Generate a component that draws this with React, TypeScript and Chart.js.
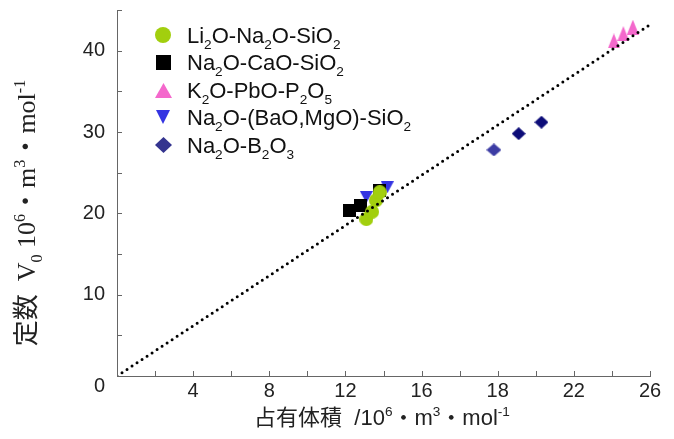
import React, { useEffect, useRef } from 'react';
import { Chart, registerables } from 'chart.js';

Chart.register(...registerables);

// ---- data ----
const seriesNames = [
  'Li_{2}O-Na_{2}O-SiO_{2}',
  'Na_{2}O-CaO-SiO_{2}',
  'K_{2}O-PbO-P_{2}O_{5}',
  'Na_{2}O-(BaO,MgO)-SiO_{2}',
  'Na_{2}O-B_{2}O_{3}',
];
const liX = [13.1, 13.4, 13.6, 13.8];
const liY = [19.3, 20.2, 21.6, 22.6];
const caX = [12.2, 12.8, 13.8];
const caY = [20.3, 21.0, 22.8];
const kX = [26.1, 26.6, 27.1];
const kY = [41.2, 42.1, 42.9];
const baX = [13.1, 14.2];
const baY = [22.0, 23.2];
const bX = [19.8, 21.1, 22.3];
const bY = [27.8, 29.8, 31.2];
const lineX = [0, 28];
const lineY = [0, 43.2];
const xTickLabels = ['4', '8', '12', '16', '18', '22', '26'];
const yTickLabels = ['0', '10', '20', '30', '40'];
const xTitle = '占有体積  /10^{6}・m^{3}・mol^{-1}';
const yTitle = '定数  V_{0} 10^{6}・m^{3}・mol^{-1}';

const SANS = "'Liberation Sans', Arial, 'Noto Sans CJK JP', sans-serif";
const SERIF = "'Liberation Serif', 'Times New Roman', 'Noto Sans CJK JP', serif";

type Seg = { t: string; k: number };
function parseRich(s: string): Seg[] {
  const out: Seg[] = [];
  const re = /([_^])\{([^}]*)\}/g;
  let last = 0;
  let m: RegExpExecArray | null;
  while ((m = re.exec(s))) {
    if (m.index > last) out.push({ t: s.slice(last, m.index), k: 0 });
    out.push({ t: m[2], k: m[1] === '^' ? 1 : -1 });
    last = re.lastIndex;
  }
  if (last < s.length) out.push({ t: s.slice(last), k: 0 });
  return out;
}
function drawRich(ctx: CanvasRenderingContext2D, s: string, x: number, y: number, size: number, family: string, align: 'left' | 'center', color: string) {
  const segs = parseRich(s);
  const small = size * 0.62;
  let total = 0;
  const widths: number[] = [];
  for (const g of segs) {
    ctx.font = `${g.k === 0 ? size : small}px ${family}`;
    const w = ctx.measureText(g.t).width;
    widths.push(w);
    total += w;
  }
  let cx = align === 'center' ? x - total / 2 : x;
  ctx.fillStyle = color;
  ctx.textBaseline = 'alphabetic';
  ctx.textAlign = 'left';
  segs.forEach((g, i) => {
    ctx.font = `${g.k === 0 ? size : small}px ${family}`;
    const dy = g.k === 1 ? -size * 0.4 : g.k === -1 ? size * 0.26 : 0;
    ctx.fillText(g.t, cx, y + dy);
    cx += widths[i];
  });
}

function makeMarker(shape: string, w: number, h: number, fill: string): HTMLCanvasElement {
  const c = document.createElement('canvas');
  c.width = w;
  c.height = h;
  const g = c.getContext('2d')!;
  g.fillStyle = fill;
  g.beginPath();
  if (shape === 'circle') {
    g.ellipse(w / 2, h / 2, w / 2, h / 2, 0, 0, Math.PI * 2);
  } else if (shape === 'square') {
    g.rect(0, 0, w, h);
  } else if (shape === 'up') {
    g.moveTo(w / 2, 0); g.lineTo(w, h); g.lineTo(0, h);
  } else if (shape === 'down') {
    g.moveTo(0, 0); g.lineTo(w, 0); g.lineTo(w / 2, h);
  } else {
    g.moveTo(w / 2, 0); g.lineTo(w, h / 2); g.lineTo(w / 2, h); g.lineTo(0, h / 2);
  }
  g.closePath();
  g.fill();
  return c;
}

const zip = (xs: number[], ys: number[]) => xs.map((x, i) => ({ x, y: ys[i] }));

export default function App() {
  const ref = useRef<HTMLCanvasElement>(null);
  useEffect(() => {
    const cv = ref.current!;
    const green = '#a2cf0e';
    const pink = '#f468cc';
    const blue = '#3434e2';
    const navy = '#34348f';
    const dataMarkers = [
      makeMarker('circle', 14, 14, green),
      makeMarker('square', 13, 13, '#000'),
      makeMarker('up', 12, 15, pink),
      makeMarker('down', 13, 12, blue),
      [makeMarker('diamond', 15, 13, '#3c3ca4'), makeMarker('diamond', 14, 13, '#0c0c78'), makeMarker('diamond', 14, 13, '#0c0c78')],
    ];
    const legendMarkers = [
      makeMarker('circle', 16, 16, green),
      makeMarker('square', 15, 15, '#000'),
      makeMarker('up', 17, 15, pink),
      makeMarker('down', 14, 14, blue),
      makeMarker('diamond', 17, 16, navy),
    ];

    const overlay = {
      id: 'overlay',
      afterDraw(chart: any) {
        const ctx: CanvasRenderingContext2D = chart.ctx;
        const xs = chart.scales.x;
        const ys = chart.scales.y;
        const area = chart.chartArea;
        ctx.save();
        // inward tick marks
        ctx.strokeStyle = '#666';
        ctx.lineWidth = 1;
        ctx.beginPath();
        xs.ticks.forEach((t: any) => {
          const px = Math.round(xs.getPixelForValue(t.value)) + 0.5;
          ctx.moveTo(px, area.bottom);
          ctx.lineTo(px, area.bottom - 5);
        });
        ys.ticks.forEach((t: any) => {
          const py = Math.round(ys.getPixelForValue(t.value)) + 0.5;
          ctx.moveTo(area.left, py);
          ctx.lineTo(area.left + 5, py);
        });
        ctx.stroke();
        // origin label (sits below the corner, as in the source)
        ctx.font = `20px ${SANS}`;
        ctx.fillStyle = '#222';
        ctx.textAlign = 'right';
        ctx.textBaseline = 'middle';
        ctx.fillText(yTickLabels[0], area.left - 12, ys.getPixelForValue(0) + 10);
        // legend
        const rows = [35, 62, 90, 117, 145];
        seriesNames.forEach((name, i) => {
          const m = legendMarkers[i];
          ctx.drawImage(m, Math.round(163 - m.width / 2), Math.round(rows[i] - m.height / 2));
          drawRich(ctx, name, 187, rows[i] + 8, 22, SANS, 'left', '#111');
        });
        // x title
        drawRich(ctx, xTitle, 382, 425, 22, SANS, 'center', '#222');
        // y title
        ctx.translate(35, 213);
        ctx.rotate(-Math.PI / 2);
        drawRich(ctx, yTitle, 0, 0, 26, SERIF, 'center', '#222');
        ctx.restore();
      },
    };

    const chart = new Chart(cv, {
      type: 'scatter',
      data: {
        datasets: [
          {
            label: 'line',
            data: zip(lineX, lineY),
            showLine: true,
            pointRadius: 0,
            borderColor: '#000',
            borderWidth: 3,
            borderDash: [0, 6],
            borderCapStyle: 'round',
          } as any,
          { label: 'Li', data: zip(liX, liY), pointStyle: dataMarkers[0] as any },
          { label: 'Ca', data: zip(caX, caY), pointStyle: dataMarkers[1] as any },
          { label: 'Ba', data: zip(baX, baY), pointStyle: dataMarkers[3] as any },
          { label: 'K', data: zip(kX, kY), pointStyle: dataMarkers[2] as any },
          { label: 'B', data: zip(bX, bY), pointStyle: dataMarkers[4] as any },
        ],
      },
      options: {
        responsive: false,
        animation: false,
        layout: { padding: { left: 0, top: 10, right: 24, bottom: 0 } },
        plugins: { legend: { display: false }, tooltip: { enabled: false } },
        scales: {
          x: {
            type: 'linear',
            min: 0,
            max: 28,
            grid: { display: false, drawTicks: false },
            border: { display: true, color: '#666', width: 1 },
            afterFit: (s: any) => { s.height = 63; s.paddingLeft = 0; s.paddingRight = 0; },
            ticks: {
              stepSize: 2,
              autoSkip: false,
              maxRotation: 0,
              padding: 3,
              color: '#222',
              font: { family: SANS, size: 20 },
              callback: (v: any) => {
                const n = Number(v);
                if (n === 0 || n % 4 !== 0) return '';
                return xTickLabels[n / 4 - 1] ?? '';
              },
            },
          },
          y: {
            type: 'linear',
            min: 0,
            max: 45,
            grid: { display: false, drawTicks: false },
            border: { display: true, color: '#666', width: 1 },
            afterFit: (s: any) => { s.width = 117; s.paddingTop = 0; s.paddingBottom = 0; },
            ticks: {
              stepSize: 5,
              autoSkip: false,
              padding: 12,
              color: '#222',
              font: { family: SANS, size: 20 },
              callback: (v: any) => {
                const n = Number(v);
                if (n === 0 || n % 10 !== 0) return '';
                return yTickLabels[n / 10] ?? '';
              },
            },
          },
        },
      },
      plugins: [overlay],
    });
    return () => chart.destroy();
  }, []);
  return (
    <div style={{ position: 'absolute', left: 0, top: 0, width: 674, height: 439, background: '#fff' }}>
      <canvas ref={ref} width={674} height={439} style={{ display: 'block' }} />
    </div>
  );
}
